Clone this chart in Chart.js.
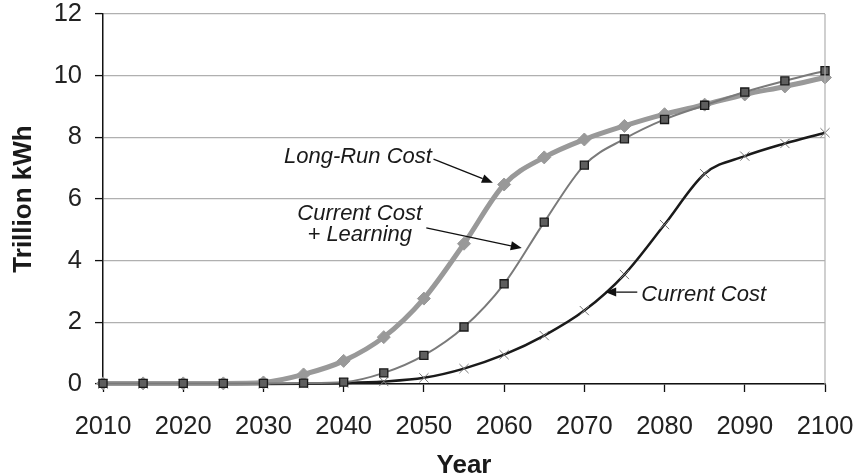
<!DOCTYPE html>
<html>
<head>
<meta charset="utf-8">
<script src="https://cdn.jsdelivr.net/npm/chart.js@4.4.1/dist/chart.umd.min.js"></script>
<style>
html,body{margin:0;padding:0;background:#fff;}
#wrap{width:859px;height:475px;}
</style>
</head>
<body>
<div id="wrap"><canvas id="c" width="859" height="475"></canvas></div>
<script>
// ---- data ----
const years = [2010,2015,2020,2025,2030,2035,2040,2045,2050,2055,2060,2065,2070,2075,2080,2085,2090,2095,2100];
const longRunCost = [0.02,0.02,0.02,0.02,0.05,0.31,0.75,1.52,2.77,4.55,6.47,7.35,7.93,8.37,8.75,9.06,9.39,9.65,9.94];
const currentCostLearning = [0.02,0.02,0.02,0.02,0.02,0.03,0.06,0.36,0.93,1.85,3.25,5.25,7.10,7.95,8.58,9.04,9.47,9.83,10.16];
const currentCost = [0,0,0,0,0,0.01,0.03,0.08,0.20,0.50,0.95,1.57,2.38,3.55,5.17,6.82,7.39,7.80,8.15];
const xTickValues = [2010,2020,2030,2040,2050,2060,2070,2080,2090,2100];
const yTickValues = [0,2,4,6,8,10,12];

// annotation labels (data coordinates)
const labelTexts = [
  {lines:["Long-Run Cost"], x:2051.0, y:7.37, align:"right"},
  {lines:["Current Cost","+ Learning"], x:2042.0, y:5.17, align:"center"},
  {lines:["Current Cost"], x:2077.1, y:2.89, align:"left"}
];
const arrows = [
  {from:[2051.2,7.29], to:[2058.6,6.53]},
  {from:[2050.3,5.06], to:[2062.2,4.41]},
  {from:[2076.6,2.98], to:[2072.6,2.98]}
];

const toXY = arr => arr.map((v,i)=>({x:years[i], y:v}));

const annotPlugin = {
  id:'annot',
  afterDatasetsDraw(chart){
    const ctx = chart.ctx, xs = chart.scales.x, ys = chart.scales.y, a = chart.chartArea;
    ctx.save();
    // right border
    ctx.strokeStyle = '#b0b0b0'; ctx.lineWidth = 1.2;
    ctx.beginPath(); ctx.moveTo(a.right, a.top); ctx.lineTo(a.right, a.bottom); ctx.stroke();
    // labels
    ctx.fillStyle = '#1a1a1a';
    ctx.font = 'italic 22px "Liberation Sans", Arial, sans-serif';
    ctx.textBaseline = 'middle';
    labelTexts.forEach(l=>{
      const px = xs.getPixelForValue(l.x), py = ys.getPixelForValue(l.y);
      ctx.textAlign = l.align;
      const lh = 21;
      const n = l.lines.length;
      l.lines.forEach((t,i)=>{
        ctx.fillText(t, px, py + (i-(n-1)/2)*lh);
      });
    });
    // arrows
    ctx.strokeStyle = '#111'; ctx.fillStyle = '#111'; ctx.lineWidth = 1.3;
    arrows.forEach(ar=>{
      const x1 = xs.getPixelForValue(ar.from[0]), y1 = ys.getPixelForValue(ar.from[1]);
      const x2 = xs.getPixelForValue(ar.to[0]), y2 = ys.getPixelForValue(ar.to[1]);
      const ang = Math.atan2(y2-y1, x2-x1);
      const hl = 11, hw = 4.5;
      const bx = x2 - hl*Math.cos(ang), by = y2 - hl*Math.sin(ang);
      ctx.beginPath(); ctx.moveTo(x1,y1); ctx.lineTo(bx,by); ctx.stroke();
      ctx.beginPath();
      ctx.moveTo(x2,y2);
      ctx.lineTo(bx + hw*Math.sin(ang), by - hw*Math.cos(ang));
      ctx.lineTo(bx - hw*Math.sin(ang), by + hw*Math.cos(ang));
      ctx.closePath(); ctx.fill();
    });
    ctx.restore();
  }
};

const tickFont = {family:'"Liberation Sans", Arial, sans-serif', size:25.5, lineHeight:1.0};
const titleFont = {family:'"Liberation Sans", Arial, sans-serif', size:26, weight:'bold', lineHeight:0.7};
const yTitleFont = {family:'"Liberation Sans", Arial, sans-serif', size:26, weight:'bold', lineHeight:1.0};

new Chart(document.getElementById('c'), {
  type:'line',
  data:{
    datasets:[
      {
        label:'Current Cost + Learning',
        data:toXY(currentCostLearning),
        borderColor:'#7a7a7a', borderWidth:2,
        pointStyle:'rect', pointRadius:5.7, pointBackgroundColor:'#5e5e5e',
        pointBorderColor:'#1a1a1a', pointBorderWidth:1.3,
        cubicInterpolationMode:'monotone', clip:false
      },
      {
        label:'Long-Run Cost',
        data:toXY(longRunCost),
        borderColor:'#999999', borderWidth:5,
        pointStyle:'rectRot', pointRadius:6.5, pointBackgroundColor:'#999999',
        pointBorderColor:'#999999', pointBorderWidth:1,
        cubicInterpolationMode:'monotone', clip:false
      },
      {
        label:'Current Cost',
        data:toXY(currentCost),
        borderColor:'#1a1a1a', borderWidth:2.5,
        pointStyle:'crossRot', pointRadius:6.5, pointBackgroundColor:'#777',
        pointBorderColor:'#777', pointBorderWidth:1,
        cubicInterpolationMode:'monotone', clip:false
      }
    ]
  },
  options:{
    responsive:false, animation:false, devicePixelRatio:1,
    layout:{padding:{left:0, top:14, right:34, bottom:0}},
    plugins:{legend:{display:false}, tooltip:{enabled:false}},
    scales:{
      x:{
        type:'linear', min:2010, max:2100,
        afterBuildTicks(s){ s.ticks = xTickValues.map(v=>({value:v})); },
        afterFit(s){ s.height = 91; s.paddingLeft = 0; s.paddingRight = 0; },
        ticks:{font:tickFont, color:'#222', padding:22, maxRotation:0, autoSkip:false,
               callback:v=>String(v)},
        grid:{drawOnChartArea:false, drawTicks:true, tickLength:8, tickColor:'#111', tickWidth:1.3},
        border:{color:'#111', width:1.5},
        title:{display:true, text:'Year', font:titleFont, color:'#1a1a1a', padding:{top:0,bottom:0}}
      },
      y:{
        min:0, max:12,
        afterBuildTicks(s){ s.ticks = yTickValues.map(v=>({value:v})); },
        afterFit(s){ s.width = 103; s.paddingTop = 0; s.paddingBottom = 0; },
        ticks:{font:tickFont, color:'#222', padding:13},
        grid:{color:'#b0b0b0', lineWidth:1.2, tickLength:8, tickColor:'#111', tickWidth:1.3},
        border:{color:'#111', width:1.5},
        title:{display:true, text:'Trillion kWh', font:yTitleFont, color:'#1a1a1a', padding:{top:11,bottom:0}}
      }
    }
  },
  plugins:[annotPlugin]
});
</script>
</body>
</html>
